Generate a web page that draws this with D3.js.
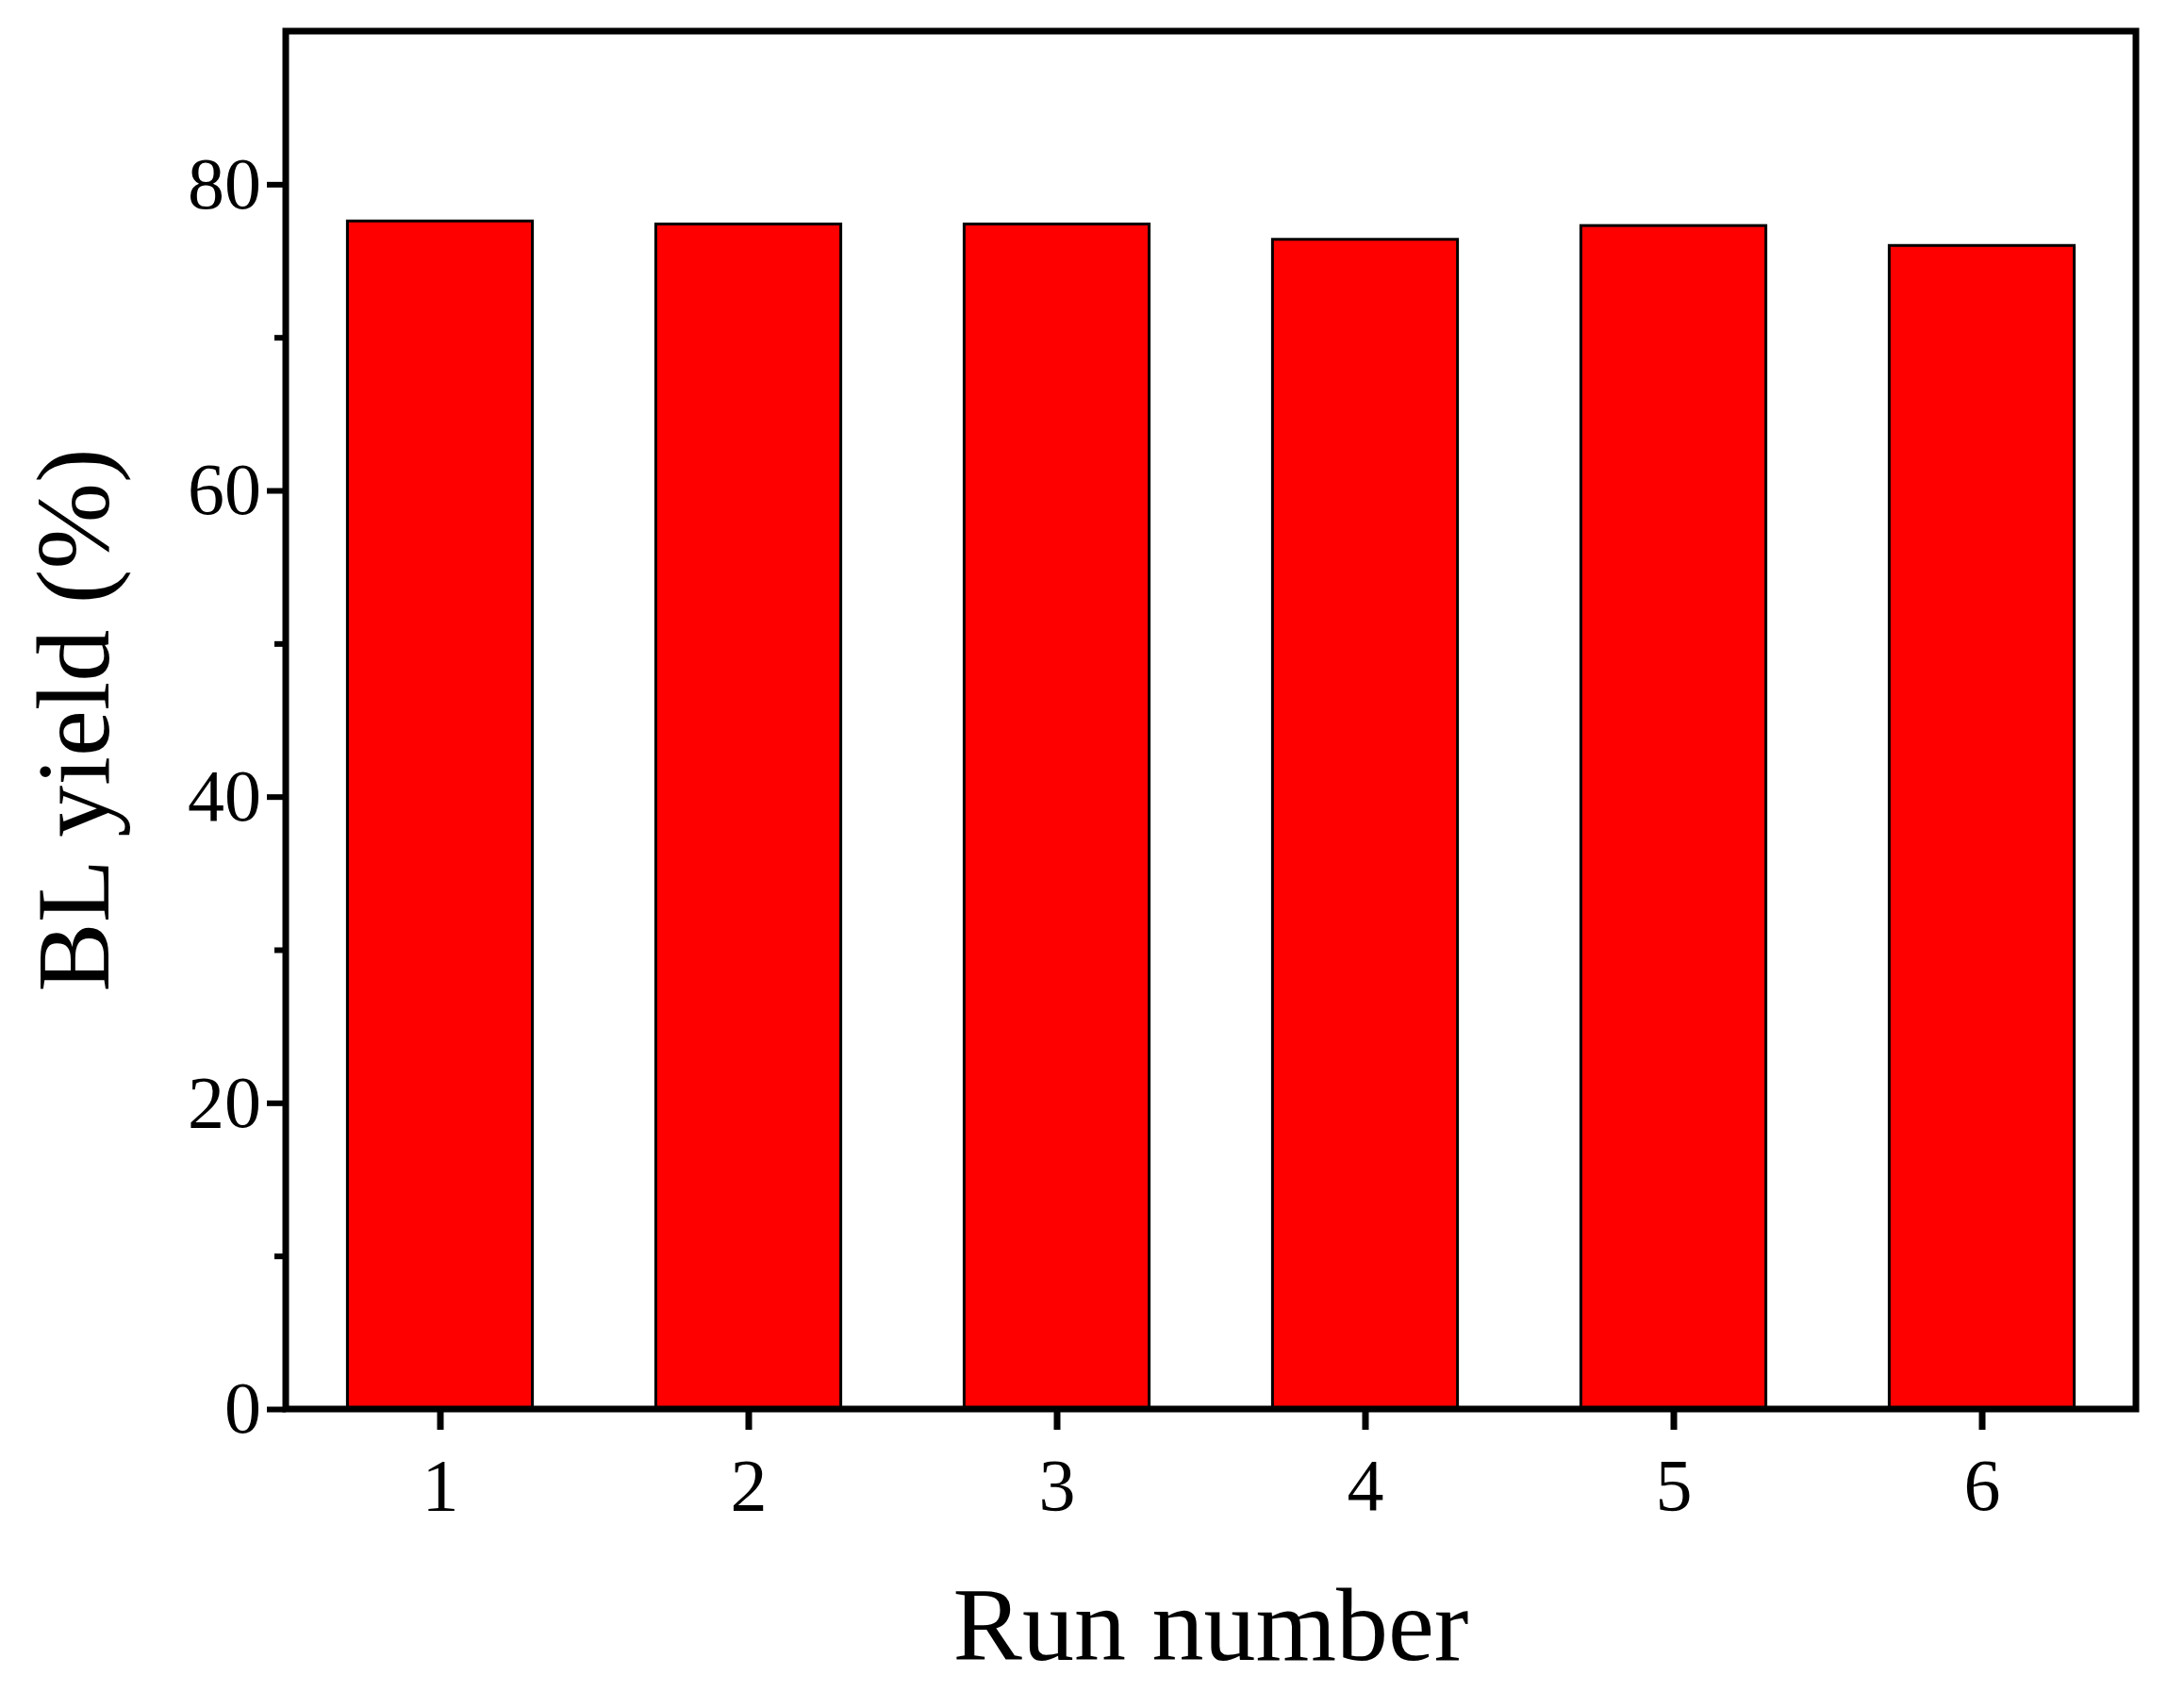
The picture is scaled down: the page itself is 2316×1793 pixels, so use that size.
<!DOCTYPE html>
<html><head><meta charset="utf-8">
<script src="https://cdn.jsdelivr.net/npm/d3@7"></script>
<style>body{margin:0;background:#fff}</style>
</head><body>
<script>
// data
const runs = [1, 2, 3, 4, 5, 6];
const yields = [77.6, 77.4, 77.4, 76.4, 77.3, 76.0];
const yTicks = [0, 20, 40, 60, 80];
const yMinor = [10, 30, 50, 70];

const W = 2316, H = 1793;
const m = {left: 303, right: 2316 - 2265, top: 33, bottom: 1793 - 1494};

const svg = d3.select("body").append("svg").attr("width", W).attr("height", H);

const x = d3.scaleLinear().domain([0.5, 6.5]).range([m.left, W - m.right]);
const y = d3.scaleLinear().domain([0, 90]).range([H - m.bottom, m.top]);
const bw = (x(1.6) - x(1));

// bars
svg.selectAll(".bar").data(runs).join("rect")
    .attr("x", d => x(d) - bw / 2)
    .attr("width", bw)
    .attr("y", (d, i) => y(yields[i]))
    .attr("height", (d, i) => y(0) - y(yields[i]))
    .attr("fill", "#ff0000")
    .attr("stroke", "#000")
    .attr("stroke-width", 3);

// left axis
svg.append("g").attr("transform", `translate(${m.left},0)`)
    .call(d3.axisLeft(y).tickValues(yTicks).tickSize(20).tickSizeOuter(0).tickPadding(6))
    .call(g => g.select(".domain").remove())
    .call(g => g.selectAll("line").attr("stroke-width", 6))
    .call(g => g.selectAll("text").attr("font-family", "Liberation Serif").attr("font-size", 78).attr("fill", "#000"));
svg.append("g").attr("transform", `translate(${m.left},0)`)
    .call(d3.axisLeft(y).tickValues(yMinor).tickSize(12).tickFormat(""))
    .call(g => g.select(".domain").remove())
    .call(g => g.selectAll("line").attr("stroke-width", 6));

// bottom axis
svg.append("g").attr("transform", `translate(0,${H - m.bottom})`)
    .call(d3.axisBottom(x).tickValues(runs).tickFormat(d3.format("d")).tickSize(22).tickPadding(30))
    .call(g => g.select(".domain").remove())
    .call(g => g.selectAll("line").attr("stroke-width", 7))
    .call(g => g.selectAll("text").attr("font-family", "Liberation Serif").attr("font-size", 78).attr("fill", "#000"));

// frame
svg.append("rect")
    .attr("x", m.left).attr("y", m.top)
    .attr("width", W - m.right - m.left).attr("height", H - m.bottom - m.top)
    .attr("fill", "none").attr("stroke", "#000").attr("stroke-width", 7);

// titles
svg.append("text").attr("x", (m.left + W - m.right) / 2).attr("y", 1760)
    .attr("text-anchor", "middle").attr("font-family", "Liberation Serif").attr("font-size", 110)
    .text("Run number");
svg.append("text").attr("transform", `translate(115,${(m.top + H - m.bottom) / 2}) rotate(-90)`)
    .attr("text-anchor", "middle").attr("font-family", "Liberation Serif").attr("font-size", 110)
    .text("BL yield (%)");
</script>
</body></html>
